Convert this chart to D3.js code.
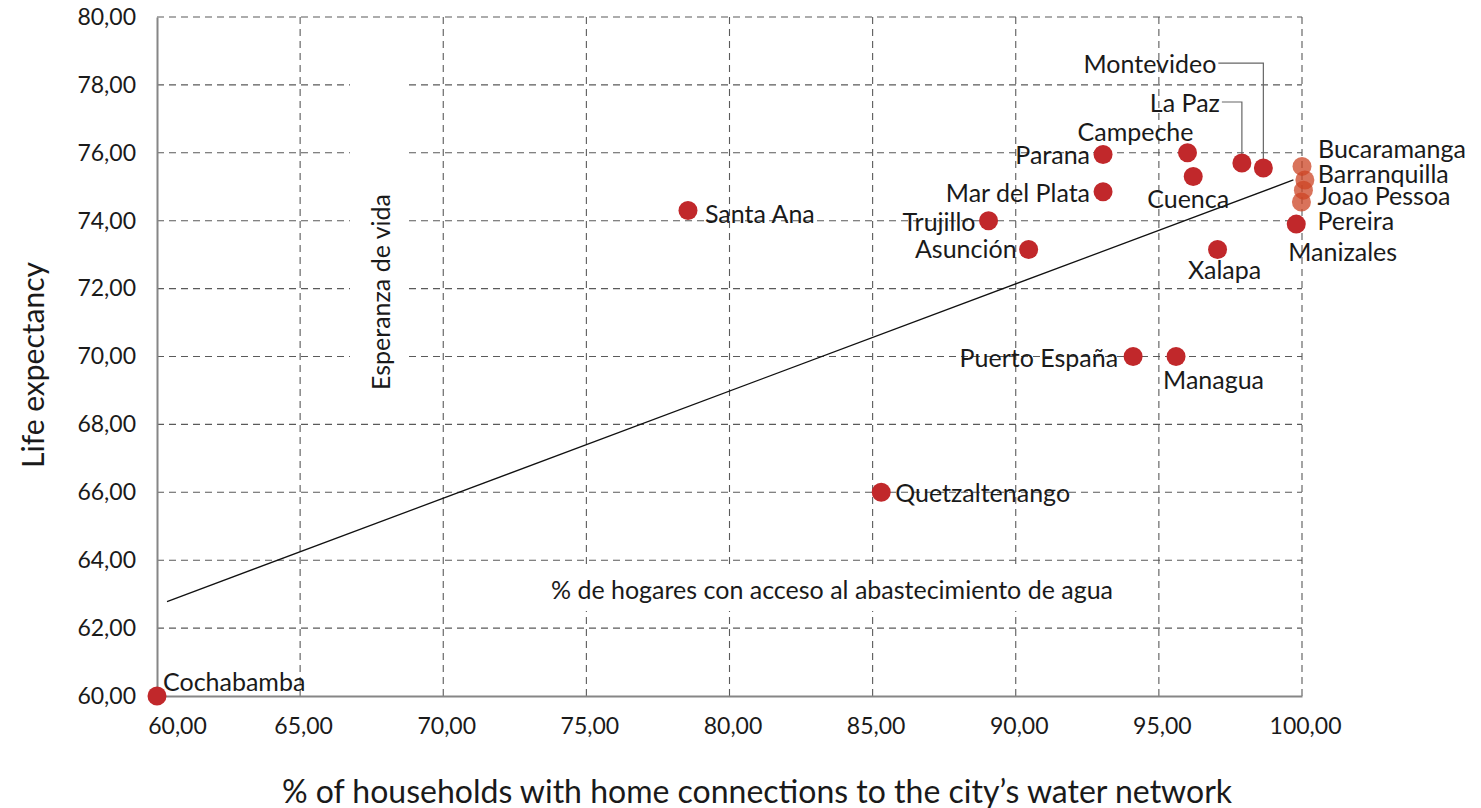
<!DOCTYPE html>
<html>
<head>
<meta charset="utf-8">
<script src="https://cdn.jsdelivr.net/npm/d3@7"></script>
<style>
  body { margin: 0; background: #fff; }
  svg { display: block; }
  text { font-family: Lato, "Open Sans", sans-serif; fill: #1a1a1a; }
</style>
</head>
<body>
<svg id="chart" width="1481" height="808"></svg>
<script>
// City data: share of households connected to the water network vs. life expectancy
const cities = [
  "Cochabamba", "Quetzaltenango", "Santa Ana", "Trujillo", "Asunción",
  "Parana", "Mar del Plata", "Campeche", "Cuenca", "La Paz", "Montevideo",
  "Bucaramanga", "Barranquilla", "Joao Pessoa", "Pereira", "Manizales",
  "Xalapa", "Puerto España", "Managua"
];
const waterAccess = [
  60.0, 85.3, 78.55, 89.05, 90.45,
  93.05, 93.05, 96.0, 96.2, 97.9, 98.65,
  100.0, 100.1, 100.05, 99.98, 99.8,
  97.05, 94.1, 95.6
];
const lifeExpectancy = [
  60.0, 66.0, 74.3, 74.0, 73.15,
  75.95, 74.85, 76.0, 75.3, 75.7, 75.55,
  75.6, 75.2, 74.9, 74.55, 73.9,
  73.15, 70.0, 70.0
];

// Linear trend line end points
const trendX = [60.35, 99.7];
const trendY = [62.78, 75.2];

// Axis ticks
const xTicks = [60, 65, 70, 75, 80, 85, 90, 95, 100];
const yTicks = [60, 62, 64, 66, 68, 70, 72, 74, 76, 78, 80];

// Cities drawn with a lighter, translucent marker
const lightCities = ["Bucaramanga", "Barranquilla", "Joao Pessoa", "Pereira"];

// Label placement relative to each marker
const labelLayout = {
  "Cochabamba":     { dx: 6,   dy: -15, anchor: "start" },
  "Quetzaltenango": { dx: 14,  dy: 0,   anchor: "start" },
  "Santa Ana":      { dx: 17,  dy: 2,   anchor: "start" },
  "Trujillo":       { dx: -13, dy: 0,   anchor: "end" },
  "Asunción":       { dx: -12, dy: -2,  anchor: "end" },
  "Parana":         { dx: -13, dy: 0,   anchor: "end" },
  "Mar del Plata":  { dx: -13, dy: 0,   anchor: "end" },
  "Campeche":       { dx: -52, dy: -22, anchor: "middle" },
  "Cuenca":         { dx: -5,  dy: 21,  anchor: "middle" },
  "La Paz":         { dx: -22, dy: -61, anchor: "end", leader: true },
  "Montevideo":     { dx: -47, dy: -105, anchor: "end", leader: true },
  "Bucaramanga":    { dx: 16,  dy: -18, anchor: "start" },
  "Barranquilla":   { dx: 13,  dy: -7,  anchor: "start" },
  "Joao Pessoa":    { dx: 14,  dy: 5,   anchor: "start" },
  "Pereira":        { dx: 16,  dy: 18,  anchor: "start" },
  "Manizales":      { dx: -8,  dy: 27,  anchor: "start" },
  "Xalapa":         { dx: 7,   dy: 19,  anchor: "middle" },
  "Puerto España":  { dx: -15, dy: 0,   anchor: "end" },
  "Managua":        { dx: -13, dy: 22,  anchor: "start" }
};

const points = cities.map((c, i) => ({ city: c, x: waterAccess[i], y: lifeExpectancy[i] }));

const svg = d3.select("#chart");
const x = d3.scaleLinear().domain([60, 100]).range([157, 1302]);
const y = d3.scaleLinear().domain([60, 80]).range([696, 17]);

const locale = d3.formatLocale({ decimal: ",", thousands: ".", grouping: [3], currency: ["", ""] });
const fmt = locale.format(".2f");

// Dashed grid
const grid = svg.append("g").attr("stroke", "#5a5a5a").attr("stroke-width", 1.1)
  .attr("stroke-dasharray", "7,5").attr("fill", "none");
grid.selectAll("line.v").data(xTicks.filter(t => t > 60)).join("line")
  .attr("x1", d => x(d)).attr("x2", d => x(d))
  .attr("y1", y(80)).attr("y2", y(60));
grid.selectAll("line.h").data(yTicks.filter(t => t > 60)).join("line")
  .attr("x1", x(60)).attr("x2", x(100))
  .attr("y1", d => y(d)).attr("y2", d => y(d));

// Leftover Spanish titles sit on white boxes that hide the grid behind them
svg.append("rect").attr("x", 350).attr("y", 60).attr("width", 54).attr("height", 345).attr("fill", "#fff");
svg.append("rect").attr("x", 546).attr("y", 565).attr("width", 572).attr("height", 46).attr("fill", "#fff");
svg.append("text")
  .attr("transform", "translate(380,292) rotate(-90)")
  .attr("text-anchor", "middle").attr("dominant-baseline", "central")
  .style("font-size", "25px").text("Esperanza de vida");
svg.append("text")
  .attr("x", 832).attr("y", 589)
  .attr("text-anchor", "middle").attr("dominant-baseline", "central")
  .style("font-size", "25px").text("% de hogares con acceso al abastecimiento de agua");

// Axes
const xAxis = d3.axisBottom(x).tickValues(xTicks).tickSize(0).tickPadding(22).tickFormat(fmt);
const gx = svg.append("g").attr("transform", `translate(0,${y(60)})`).call(xAxis);
gx.select(".domain").attr("stroke", "#868686").attr("stroke-width", 2);
gx.selectAll("text").style("font-size", "23px").attr("dx", d => d === 60 ? 20 : 3);

const yAxis = d3.axisLeft(y).tickValues(yTicks).tickSize(0).tickPadding(21).tickFormat(fmt);
const gy = svg.append("g").attr("transform", `translate(${x(60)},0)`).call(yAxis);
gy.select(".domain").attr("stroke", "#868686").attr("stroke-width", 2);
gy.selectAll("text").style("font-size", "23px");
svg.selectAll(".tick text").attr("fill", "#1a1a1a").style("font-family", "Lato, sans-serif");

// Trend line
svg.append("line")
  .attr("x1", x(trendX[0])).attr("y1", y(trendY[0]))
  .attr("x2", x(trendX[1])).attr("y2", y(trendY[1]))
  .attr("stroke", "#111").attr("stroke-width", 1.3);

// Leader lines
const leaders = svg.append("g").attr("fill", "none").attr("stroke", "#666").attr("stroke-width", 1.2);
points.filter(p => labelLayout[p.city].leader).forEach(p => {
  const L = labelLayout[p.city];
  const px = x(p.x), py = y(p.y);
  const ly = py + L.dy;
  leaders.append("path").attr("d", `M${px + L.dx + 2},${ly} H${px} V${py - 8}`);
});

// Markers
svg.append("g").selectAll("circle").data(points).join("circle")
  .attr("cx", d => x(d.x)).attr("cy", d => y(d.y)).attr("r", 9.5)
  .attr("fill", d => lightCities.includes(d.city) ? "#cc4424" : "#c1282b")
  .attr("fill-opacity", d => lightCities.includes(d.city) ? 0.75 : 1);

// Point labels
svg.append("g").selectAll("text").data(points).join("text")
  .attr("x", d => x(d.x) + labelLayout[d.city].dx)
  .attr("y", d => y(d.y) + labelLayout[d.city].dy)
  .attr("text-anchor", d => labelLayout[d.city].anchor)
  .attr("dominant-baseline", "central")
  .style("font-size", "25px")
  .text(d => d.city);

// Axis titles
svg.append("text")
  .attr("transform", "translate(32,365) rotate(-90)")
  .attr("text-anchor", "middle").attr("dominant-baseline", "central")
  .style("font-size", "30px").text("Life expectancy");
svg.append("text")
  .attr("x", 757).attr("y", 803)
  .attr("text-anchor", "middle")
  .style("font-size", "32px").text("% of households with home connections to the city\u2019s water network");
</script>
</body>
</html>
